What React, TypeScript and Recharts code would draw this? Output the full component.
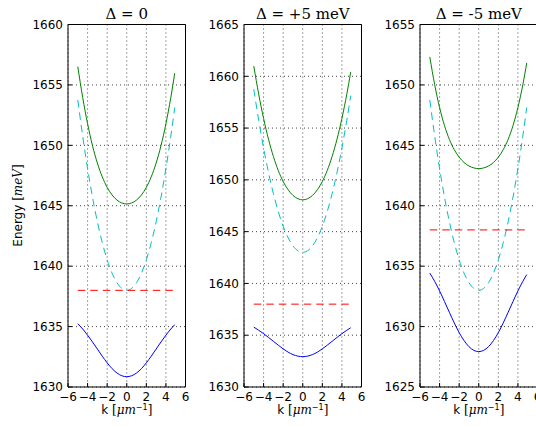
import { LineChart, Line, XAxis, YAxis, CartesianGrid, ReferenceArea } from "recharts";

// wave vector k [µm^-1]
const kValues = [-5, -4.5, -4, -3.5, -3, -2.5, -2, -1.5, -1, -0.5, 0, 0.5, 1, 1.5, 2, 2.5, 3, 3.5, 4, 4.5, 4.9];
const kTicks = [-6, -4, -2, 0, 2, 4, 6];

// Δ = 0
const upper0 = [1656.51, 1653.96, 1651.79, 1649.98, 1648.53, 1647.39, 1646.52, 1645.89, 1645.47, 1645.23, 1645.15, 1645.23, 1645.47, 1645.89, 1646.52, 1647.39, 1648.53, 1649.98, 1651.79, 1653.96, 1655.97];
const lower0 = [1635.24, 1634.8, 1634.29, 1633.73, 1633.14, 1632.55, 1632.0, 1631.52, 1631.16, 1630.93, 1630.85, 1630.93, 1631.16, 1631.52, 1632.0, 1632.55, 1633.14, 1633.73, 1634.29, 1634.8, 1635.16];
const cavity0 = [1653.75, 1650.76, 1648.08, 1645.72, 1643.67, 1641.94, 1640.52, 1639.42, 1638.63, 1638.16, 1638, 1638.16, 1638.63, 1639.42, 1640.52, 1641.94, 1643.67, 1645.72, 1648.08, 1650.76, 1653.13];
const yTicks0 = [1630, 1635, 1640, 1645, 1650, 1655, 1660];

// Δ = +5 meV
const upperP5 = [1660.98, 1658.28, 1655.93, 1653.93, 1652.26, 1650.9, 1649.84, 1649.05, 1648.5, 1648.18, 1648.07, 1648.18, 1648.5, 1649.05, 1649.84, 1650.9, 1652.26, 1653.93, 1655.93, 1658.28, 1660.41];
const lowerP5 = [1635.78, 1635.48, 1635.15, 1634.79, 1634.41, 1634.04, 1633.68, 1633.37, 1633.13, 1632.98, 1632.93, 1632.98, 1633.13, 1633.37, 1633.68, 1634.04, 1634.41, 1634.79, 1635.15, 1635.48, 1635.72];
const cavityP5 = [1658.75, 1655.76, 1653.08, 1650.72, 1648.67, 1646.94, 1645.52, 1644.42, 1643.63, 1643.16, 1643, 1643.16, 1643.63, 1644.42, 1645.52, 1646.94, 1648.67, 1650.72, 1653.08, 1655.76, 1658.13];
const yTicksP5 = [1630, 1635, 1640, 1645, 1650, 1655, 1660, 1665];

// Δ = -5 meV
const upperM5 = [1652.32, 1650.01, 1648.13, 1646.64, 1645.49, 1644.64, 1644.02, 1643.58, 1643.29, 1643.13, 1643.07, 1643.13, 1643.29, 1643.58, 1644.02, 1644.64, 1645.49, 1646.64, 1648.13, 1650.01, 1651.82];
const lowerM5 = [1634.43, 1633.74, 1632.95, 1632.08, 1631.18, 1630.3, 1629.5, 1628.84, 1628.34, 1628.03, 1627.93, 1628.03, 1628.34, 1628.84, 1629.5, 1630.3, 1631.18, 1632.08, 1632.95, 1633.74, 1634.3];
const cavityM5 = [1648.75, 1645.76, 1643.08, 1640.72, 1638.67, 1636.94, 1635.52, 1634.42, 1633.63, 1633.16, 1633, 1633.16, 1633.63, 1634.42, 1635.52, 1636.94, 1638.67, 1640.72, 1643.08, 1645.76, 1648.13];
const yTicksM5 = [1625, 1630, 1635, 1640, 1645, 1650, 1655];

// exciton level (flat)
const excitonK = [-5, 4.9];
const excitonEnergy = [1638, 1638];

const excitonRows = excitonK.map((k, i) => ({ k, exciton: excitonEnergy[i] }));

const buildRows = (upper: number[], lower: number[], cavity: number[]) =>
  kValues.map((k, i) => ({ k, upper: upper[i], lower: lower[i], cavity: cavity[i] }));

const panels = [
  { left: 0, title: "Δ = 0", yTicks: yTicks0, rows: buildRows(upper0, lower0, cavity0) },
  { left: 176, title: "Δ = +5 meV", yTicks: yTicksP5, rows: buildRows(upperP5, lowerP5, cavityP5) },
  { left: 352, title: "Δ = -5 meV", yTicks: yTicksM5, rows: buildRows(upperM5, lowerM5, cavityM5) },
];

const W = 190;
const H = 429;
const AXIS_W = 68;
const PLOT_W = 117.5;
const TOP = 24.5;
const X_AXIS_H = 42;

const fmt = (v: number) => (v < 0 ? "\u2212" + Math.abs(v) : String(v));
const tickStyle = { fontSize: 12, fill: "#000", fontFamily: "DejaVu Sans" };
const tickLineStyle = { stroke: "#000", strokeWidth: 1 };

function Panel({ left, yTicks, rows }: { left: number; yTicks: number[]; rows: any[] }) {
  const yMin = yTicks[0];
  const yMax = yTicks[yTicks.length - 1];
  return (
    <div style={{ position: "absolute", left, top: 0 }}>
      <LineChart
        width={W}
        height={H}
        data={rows}
        margin={{ top: TOP - 1, right: W - AXIS_W - PLOT_W - 1, bottom: 0, left: 0 }}
      >
        <CartesianGrid stroke="#444" strokeDasharray="1 3" />
        <XAxis
          dataKey="k"
          type="number"
          domain={[-6, 6]}
          ticks={kTicks}
          interval={0}
          tickFormatter={fmt}
          tick={tickStyle}
          tickLine={tickLineStyle}
          axisLine={false}
          tickSize={-4}
          tickMargin={9}
          height={X_AXIS_H}
          allowDataOverflow
        />
        <XAxis
          xAxisId="top"
          orientation="top"
          dataKey="k"
          type="number"
          domain={[-6, 6]}
          ticks={kTicks}
          interval={0}
          tick={false}
          tickLine={tickLineStyle}
          axisLine={false}
          tickSize={-4}
          height={1}
          allowDataOverflow
        />
        <YAxis
          type="number"
          domain={[yMin, yMax]}
          ticks={yTicks}
          interval={0}
          tick={tickStyle}
          tickLine={tickLineStyle}
          axisLine={false}
          tickSize={-4}
          tickMargin={9}
          width={AXIS_W}
          allowDataOverflow
        />
        <YAxis
          yAxisId="right"
          orientation="right"
          type="number"
          domain={[yMin, yMax]}
          ticks={yTicks}
          interval={0}
          tick={false}
          tickLine={tickLineStyle}
          axisLine={false}
          tickSize={-4}
          width={1}
          allowDataOverflow
        />
        <Line dataKey="upper" type="monotone" stroke="#008000" strokeWidth={1} dot={false} isAnimationActive={false} />
        <Line dataKey="cavity" type="monotone" stroke="#00bfbf" strokeWidth={1} strokeDasharray="7.5 5" dot={false} isAnimationActive={false} />
        <Line data={excitonRows} dataKey="exciton" type="linear" stroke="#ff0000" strokeWidth={1} strokeDasharray="7.5 5" dot={false} isAnimationActive={false} />
        <Line dataKey="lower" type="monotone" stroke="#0000ff" strokeWidth={1} dot={false} isAnimationActive={false} />
        <ReferenceArea x1={-6} x2={6} y1={yMin} y2={yMax} fill="none" fillOpacity={0} stroke="#000" strokeWidth={1} />
      </LineChart>
    </div>
  );
}

export default function App() {
  return (
    <div style={{ position: "fixed", left: 0, top: 0, width: 536, height: 429, overflow: "hidden", background: "#fff" }}>
      {panels.map((p) => (
        <Panel key={p.title} left={p.left} yTicks={p.yTicks} rows={p.rows} />
      ))}
      <svg width={536} height={429} style={{ position: "absolute", left: 0, top: 0, pointerEvents: "none" }}>
        {panels.map((p) => {
          const cx = p.left + AXIS_W + PLOT_W / 2;
          return (
            <g key={p.title}>
              <text x={cx} y={18.5} textAnchor="middle" fontFamily="DejaVu Serif" fontSize={15} fill="#000">
                {p.title}
              </text>
              <text x={cx} y={414} textAnchor="middle" fontSize={12} fill="#000">
                <tspan fontFamily="DejaVu Sans">k </tspan>
                <tspan fontFamily="DejaVu Serif">[</tspan>
                <tspan fontFamily="DejaVu Serif" fontStyle="italic">μm</tspan>
                <tspan fontFamily="DejaVu Sans" fontSize={8} dy={-4}>−1</tspan>
                <tspan fontFamily="DejaVu Serif" dy={4}>]</tspan>
              </text>
            </g>
          );
        })}
        <text transform="translate(22 205.5) rotate(-90)" textAnchor="middle" fontSize={12} fill="#000">
          <tspan fontFamily="DejaVu Sans">Energy </tspan>
          <tspan fontFamily="DejaVu Serif">[</tspan>
          <tspan fontFamily="DejaVu Serif" fontStyle="italic">meV</tspan>
          <tspan fontFamily="DejaVu Serif">]</tspan>
        </text>
      </svg>
    </div>
  );
}
